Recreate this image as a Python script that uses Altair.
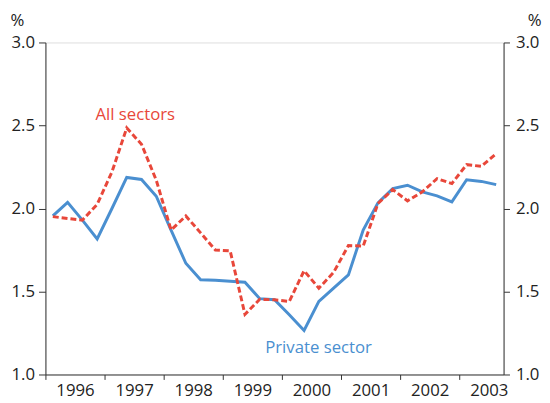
import altair as alt
import pandas as pd

years = [1996, 1997, 1998, 1999, 2000, 2001, 2002, 2003]
quarters = [f"{y} Q{q}" for y in years for q in range(1, 5)][:31]

private_sector = [1.955, 2.037, 1.93, 1.817, 2.0, 2.187, 2.175, 2.074, 1.87, 1.67,
                  1.571, 1.568, 1.562, 1.556, 1.457, 1.45, 1.36, 1.265, 1.44, 1.52,
                  1.60, 1.87, 2.034, 2.12, 2.14, 2.10, 2.076, 2.04, 2.173, 2.163, 2.144]
all_sectors = [1.951, 1.94, 1.93, 2.025, 2.22, 2.485, 2.387, 2.17, 1.87, 1.955,
               1.853, 1.75, 1.745, 1.362, 1.453, 1.45, 1.44, 1.625, 1.52, 1.615,
               1.777, 1.773, 2.03, 2.114, 2.046, 2.10, 2.18, 2.15, 2.264, 2.254, 2.33]

label_text = ["All sectors", "Private sector"]
label_t = [1997.52, 2000.62]
label_v = [2.56, 1.16]

RED = "#e8473a"
BLUE = "#4a8fd0"
FONT = "Open Sans"

def qt(s):
    y, q = s.split(" Q")
    return int(y) + (int(q) - 0.5) / 4

df_priv = pd.DataFrame({"t": [qt(q) for q in quarters], "v": private_sector})
df_all = pd.DataFrame({"t": [qt(q) for q in quarters], "v": all_sectors})
df_lab = pd.DataFrame({"t": label_t, "v": label_v, "txt": label_text,
                       "col": [RED, BLUE]})

xscale = alt.Scale(domain=[1996, 2003.75], nice=False, zero=False)
yscale = alt.Scale(domain=[1, 3], nice=False, zero=False)

xaxis = alt.Axis(values=years, format="d", labelOffset=30, tickSize=5,
                 labelPadding=3, grid=False, title=None, labelFlush=False,
                 labelOverlap=False, labelFontSize=17, labelFont=FONT,
                 labelColor="#222", domainColor="#333", tickColor="#333")

yleft = alt.Axis(values=[1, 1.5, 2, 2.5, 3], format=".1f", tickSize=7,
                 labelPadding=4, grid=False, title="%", titleAngle=0,
                 titleAlign="left", titleBaseline="alphabetic", titleX=-36,
                 titleY=-17, titleFontWeight="normal", titleFontSize=17,
                 titleFont=FONT, titleColor="#222", labelFontSize=17,
                 labelFont=FONT, labelColor="#222", domainColor="#333",
                 tickColor="#333")
yright = alt.Axis(values=[1, 1.5, 2, 2.5, 3], format=".1f", tickSize=6,
                  labelPadding=6, grid=False, title="%", titleAngle=0,
                  titleAlign="left", titleBaseline="alphabetic", titleX=24,
                  titleY=-17, titleFontWeight="normal", titleFontSize=17,
                  titleFont=FONT, titleColor="#222", labelFontSize=17,
                  labelFont=FONT, labelColor="#222", domainColor="#333",
                  tickColor="#333", orient="right")

blue = alt.Chart(df_priv).mark_line(color=BLUE, strokeWidth=3).encode(
    x=alt.X("t:Q", scale=xscale, axis=xaxis),
    y=alt.Y("v:Q", scale=yscale, axis=yleft),
)
red = alt.Chart(df_all).mark_line(color=RED, strokeWidth=3, strokeDash=[6, 3]).encode(
    x=alt.X("t:Q", scale=xscale, axis=xaxis),
    y=alt.Y("v:Q", scale=yscale, axis=None),
)
right = alt.Chart(df_all).mark_line(opacity=0).encode(
    x=alt.X("t:Q", scale=xscale, axis=xaxis),
    y=alt.Y("v:Q", scale=yscale, axis=yright),
)
labels = alt.Chart(df_lab).mark_text(fontSize=17, font=FONT, align="center",
                                     baseline="middle").encode(
    x=alt.X("t:Q", scale=xscale, axis=xaxis),
    y=alt.Y("v:Q", scale=yscale, axis=None),
    text="txt:N",
    color=alt.Color("col:N", scale=None),
)

chart = alt.layer(blue, red, labels, right).resolve_scale(y="independent").properties(
    width=465, height=337,
    autosize=alt.AutoSizeParams(type="none"),
    padding={"left": 38, "top": 32, "right": 39, "bottom": 30},
).configure_view(stroke=None).configure(background="white")

chart.save("out.html", embed_options={"renderer": "svg", "actions": False})
